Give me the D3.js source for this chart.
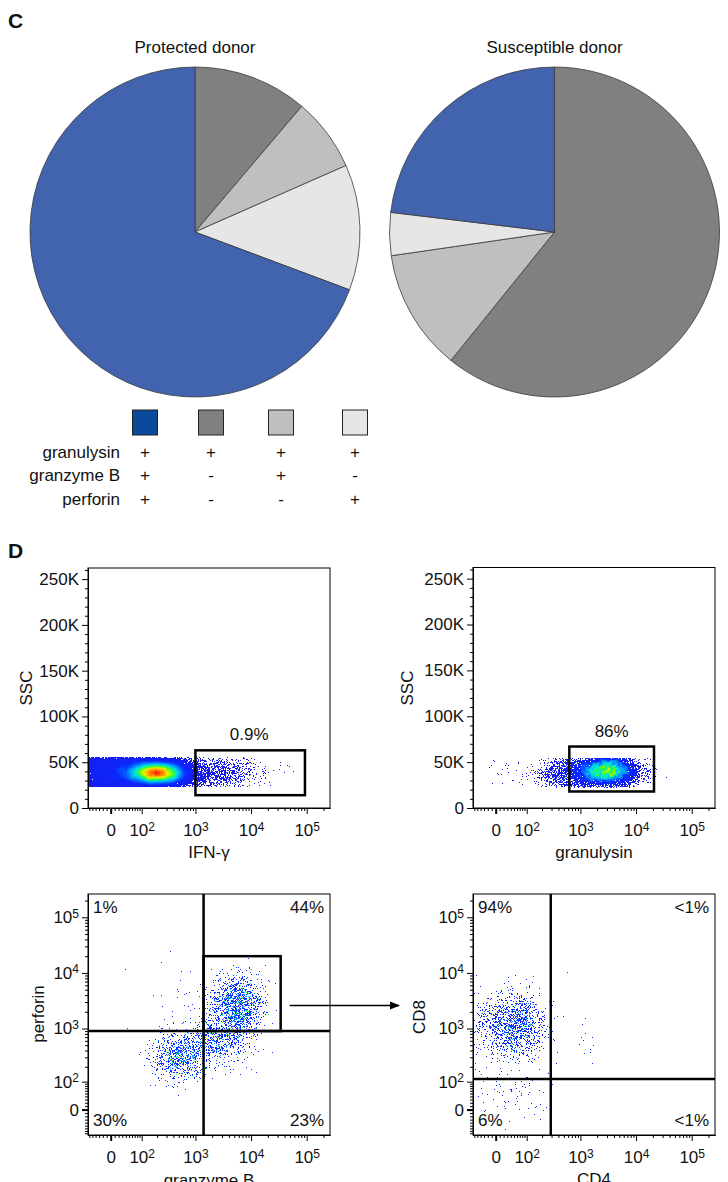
<!DOCTYPE html>
<html>
<head>
<meta charset="utf-8">
<title>Granulysin, granzyme B and perforin co-expression</title>
<script src="https://cdn.jsdelivr.net/npm/d3@7/dist/d3.min.js"></script>
<style>
  body { margin: 0; background: #fff; }
  svg { display: block; }
  text { font-family: "Liberation Sans", Arial, Helvetica, sans-serif; fill: #111; }
</style>
</head>
<body>
<svg id="fig" width="728" height="1182"></svg>
<script>
// ---------- panel C data ----------
const markers = ['granulysin', 'granzyme B', 'perforin'];
const markerSigns = [
  ['+', '+', '+', '+'],
  ['+', '-', '+', '-'],
  ['+', '-', '-', '+']
];
const subsetColors = ['#0b4a9b', '#808080', '#bfbfbf', '#e6e6e6'];
const pieColors = ['#4263ae', '#808080', '#bfbfbf', '#e6e6e6'];
const protectedPct = [69.3, 11.2, 7.2, 12.3];
const susceptiblePct = [23.1, 60.8, 11.9, 4.2];
const pieOrder = [1, 2, 3, 0]; // clockwise from 12 o'clock

// ---------- panel D data ----------
const sscTicks = [0, 50000, 100000, 150000, 200000, 250000];
const sscLabels = ['0', '50K', '100K', '150K', '200K', '250K'];
const logTicks = [0, 1e2, 1e3, 1e4, 1e5];
const logExps = ['', '2', '3', '4', '5'];

// gates: [x0, x1, y0, y1] in channel values
const ifnGate = [1000, 93000, 14000, 63000];
const gnlyGate = [630, 21000, 18000, 67000];
const gzmbSplit = [1400, 900];
const gzmbGate = [1400, 34000, 900, 20000];
const cdSplit = [290, 114];
const ifnLabel = '0.9%';
const gnlyLabel = '86%';
const gzmbQuad = ['1%', '44%', '30%', '23%']; // UL, UR, LL, LR
const cdQuad = ['94%', '<1%', '6%', '<1%'];

// event populations: [x centre, x spread (asinh units), y centre, y spread, events]
const ifnPops = [[200, 0.66, 38500, 7000, 30000], [10, 0.9, 39000, 16000, 10000], [2000, 1.0, 38000, 10000, 1300]];
const gnlyPops = [[3000, 0.6, 41000, 8000, 7000], [700, 0.7, 38000, 10000, 1400], [60, 1.2, 40000, 10000, 40]];
const gzmbPops = [[5600, 0.55, 2600, 0.6, 1250], [520, 0.6, 300, 0.5, 800], [2700, 0.65, 620, 0.5, 620], [900, 1.2, 2000, 1.0, 60]];
const cdPops = [[70, 0.55, 1150, 0.65, 900], [5, 0.6, 1150, 0.65, 450], [50, 0.8, 60, 0.8, 90], [1400, 0.35, 700, 0.5, 12]];
const sscWindow = [23000, 55000];

const svg = d3.select('#fig');
const FS = 17;

// panel letters
svg.append('text').attr('x', 8).attr('y', 28).attr('font-size', 21).attr('font-weight', 'bold').text('C');
svg.append('text').attr('x', 8).attr('y', 558).attr('font-size', 21).attr('font-weight', 'bold').text('D');

// ---------- pies ----------
const arc = d3.arc().innerRadius(0).outerRadius(165);
const pie = d3.pie().sort(null).value(d => d.v);
[[protectedPct, 195, 'Protected donor'], [susceptiblePct, 554.5, 'Susceptible donor']].forEach(([pct, cx, title]) => {
  const g = svg.append('g').attr('transform', `translate(${cx},232)`);
  g.selectAll('path')
    .data(pie(pieOrder.map(i => ({ v: pct[i], c: pieColors[i] }))))
    .join('path')
    .attr('d', arc)
    .attr('fill', d => d.data.c)
    .attr('stroke', '#3a3a3a')
    .attr('stroke-width', 0.8);
  svg.append('text').attr('x', cx).attr('y', 53).attr('text-anchor', 'middle').attr('font-size', FS).text(title);
});

// legend table
const colX = [145, 211, 281, 355];
const rowY = [458, 481, 505];
svg.selectAll('rect.key').data(subsetColors).join('rect').attr('class', 'key')
  .attr('x', (d, i) => colX[i] - 12.5).attr('y', 410).attr('width', 25).attr('height', 25)
  .attr('fill', d => d).attr('stroke', '#222').attr('stroke-width', 1);
markers.forEach((m, r) => {
  svg.append('text').attr('x', 120).attr('y', rowY[r]).attr('text-anchor', 'end').attr('font-size', FS).text(m);
  markerSigns[r].forEach((s, c) => {
    svg.append('text').attr('x', colX[c]).attr('y', rowY[r]).attr('text-anchor', 'middle').attr('font-size', FS).text(s);
  });
});

// ---------- flow plots ----------
// asinh ("biexponential") display scale usable by d3.axis
function biex(c, dom, range) {
  const lin = d3.scaleLinear().domain(dom.map(v => Math.asinh(v / c))).range(range);
  const s = v => lin(Math.asinh(v / c));
  s.t = lin;
  s.c = c;
  s.domain = () => dom;
  s.range = () => lin.range();
  s.copy = () => s;
  return s;
}
const xDomain = [-65, 262144];
const yLogDomain = [-88, 262144];

const frames = [
  { x0: 88, x1: 330, y0: 568, y1: 808 },
  { x0: 473, x1: 715, y0: 567.5, y1: 808 },
  { x0: 88, x1: 330, y0: 894, y1: 1135 },
  { x0: 473, x1: 715, y0: 894, y1: 1135 }
];

const lcg = d3.randomLcg(0.1379);
const gauss = d3.randomNormal.source(lcg)(0, 1);

function sampleEvents(pops, xs, ys, logY) {
  const pts = [];
  pops.forEach(([mx, sx, my, sy, n]) => {
    const tx = Math.asinh(mx / xs.c);
    const ty = logY ? Math.asinh(my / ys.c) : my;
    for (let k = 0; k < n; k++) {
      const px = xs.t(tx + sx * gauss());
      let vy;
      if (logY) vy = ys.t(ty + sy * gauss());
      else {
        let v;
        do { v = ty + sy * gauss(); } while (v < sscWindow[0] || v > sscWindow[1]);
        vy = ys(v);
      }
      pts.push([px, vy]);
    }
  });
  return pts;
}

function boxBlur(src, w, h, r) {
  const tmp = new Float32Array(w * h), out = new Float32Array(w * h);
  for (let y = 0; y < h; y++) for (let x = 0; x < w; x++) {
    let s = 0;
    for (let k = -r; k <= r; k++) { const xx = x + k; if (xx >= 0 && xx < w) s += src[y * w + xx]; }
    tmp[y * w + x] = s;
  }
  for (let y = 0; y < h; y++) for (let x = 0; x < w; x++) {
    let s = 0;
    for (let k = -r; k <= r; k++) { const yy = y + k; if (yy >= 0 && yy < h) s += tmp[yy * w + x]; }
    out[y * w + x] = s;
  }
  return out;
}

const jet = d3.scaleLinear()
  .domain([0, 0.18, 0.32, 0.45, 0.58, 0.72, 0.86, 1])
  .range(['#1a1ae8', '#0a28ff', '#0090ff', '#00e0e0', '#30ff30', '#e8f000', '#ff8c00', '#ff1400'])
  .clamp(true);

function drawDots(f, pts, blur, heat) {
  const w = Math.round(f.x1 - f.x0), h = Math.round(f.y1 - f.y0);
  const grid = new Float32Array(w * h);
  pts.forEach(([px, py]) => {
    const i = Math.floor(px - f.x0), j = Math.floor(py - f.y0);
    if (i >= 1 && i < w - 1 && j >= 1 && j < h - 1) grid[j * w + i]++;
  });
  const dens = boxBlur(grid, w, h, blur);
  const max = d3.max(dens);
  const cells = [];
  for (let j = 0; j < h; j++) for (let i = 0; i < w; i++) {
    if (grid[j * w + i] > 0) cells.push({ i, j, d: Math.min(1, dens[j * w + i] / max * heat) });
  }
  svg.append('g').attr('shape-rendering', 'crispEdges')
    .selectAll('rect').data(cells).join('rect')
    .attr('x', d => f.x0 + d.i).attr('y', d => f.y0 + d.j)
    .attr('width', 1).attr('height', 1)
    .attr('fill', d => jet(d.d));
}

function logMinors(lo) {
  const m = [];
  for (let k = 10; k <= 90; k += 10) { m.push(k); if (-k >= lo) m.push(-k); }
  [100, 1000, 10000, 100000].forEach(dec => { for (let k = 2; k <= 9; k++) if (k * dec <= 262144) m.push(k * dec); });
  return m;
}

function superLabel(sel, exps) {
  sel.each(function (d, i) {
    const t = d3.select(this).text(exps[i] ? '10' : '0');
    if (exps[i]) t.append('tspan').attr('dy', '-0.45em').attr('font-size', 12).text(exps[i]);
  });
}

function styleAxis(g) {
  g.attr('font-size', FS).attr('font-family', null);
  g.selectAll('path.domain').attr('stroke', '#000');
  g.selectAll('line').attr('stroke', '#000');
  g.selectAll('text').attr('fill', '#111');
}

function drawAxes(f, xs, ys, logY) {
  // bottom axis
  const gxm = svg.append('g').attr('transform', `translate(0,${f.y1})`)
    .call(d3.axisBottom(xs).tickValues(logMinors(xDomain[0])).tickSize(3).tickSizeOuter(0).tickFormat(''));
  styleAxis(gxm);
  const gx = svg.append('g').attr('transform', `translate(0,${f.y1})`)
    .call(d3.axisBottom(xs).tickValues(logTicks).tickSize(6).tickSizeOuter(0).tickPadding(10));
  styleAxis(gx);
  superLabel(gx.selectAll('.tick text'), logExps);
  gx.selectAll('.tick line').filter(d => d === 0).attr('stroke-width', 2);

  if (logY) {
    const gym = svg.append('g').attr('transform', `translate(${f.x0},0)`)
      .call(d3.axisLeft(ys).tickValues(logMinors(yLogDomain[0])).tickSize(3).tickSizeOuter(0).tickFormat(''));
    styleAxis(gym);
    const gy = svg.append('g').attr('transform', `translate(${f.x0},0)`)
      .call(d3.axisLeft(ys).tickValues(logTicks).tickSize(6).tickSizeOuter(0).tickPadding(3));
    styleAxis(gy);
    superLabel(gy.selectAll('.tick text'), logExps);
    gy.selectAll('.tick line').filter(d => d === 0).attr('stroke-width', 2);
  } else {
    const minors = d3.range(10000, 262144, 10000).filter(v => v % 50000 !== 0);
    const gym = svg.append('g').attr('transform', `translate(${f.x0},0)`)
      .call(d3.axisLeft(ys).tickValues(minors).tickSize(3).tickSizeOuter(0).tickFormat(''));
    styleAxis(gym);
    const gy = svg.append('g').attr('transform', `translate(${f.x0},0)`)
      .call(d3.axisLeft(ys).tickValues(sscTicks).tickSize(6).tickSizeOuter(0).tickPadding(3)
        .tickFormat((d, i) => sscLabels[i]));
    styleAxis(gy);
  }
  svg.append('rect').attr('x', f.x0).attr('y', f.y0).attr('width', f.x1 - f.x0).attr('height', f.y1 - f.y0)
    .attr('fill', 'none').attr('stroke', '#000').attr('stroke-width', 1);
}

function gateRect(xs, ys, g) {
  svg.append('rect')
    .attr('x', xs(g[0])).attr('y', ys(g[3]))
    .attr('width', xs(g[1]) - xs(g[0])).attr('height', ys(g[2]) - ys(g[3]))
    .attr('fill', 'none').attr('stroke', '#000').attr('stroke-width', 2.5);
}

function quadrants(f, xs, ys, split, labels) {
  svg.append('line').attr('x1', xs(split[0])).attr('x2', xs(split[0])).attr('y1', f.y0).attr('y2', f.y1)
    .attr('stroke', '#000').attr('stroke-width', 2.5);
  svg.append('line').attr('x1', f.x0).attr('x2', f.x1).attr('y1', ys(split[1])).attr('y2', ys(split[1]))
    .attr('stroke', '#000').attr('stroke-width', 2.5);
  const pos = [[f.x0 + 5, f.y0 + 19, 'start'], [f.x1 - 6, f.y0 + 19, 'end'], [f.x0 + 5, f.y1 - 9, 'start'], [f.x1 - 6, f.y1 - 9, 'end']];
  labels.forEach((l, i) => svg.append('text').attr('x', pos[i][0]).attr('y', pos[i][1])
    .attr('text-anchor', pos[i][2]).attr('font-size', FS).text(l));
}

function axisTitle(x, y, text, rotate) {
  svg.append('text').attr('transform', `translate(${x},${y})` + (rotate ? ' rotate(-90)' : ''))
    .attr('text-anchor', 'middle').attr('font-size', FS).text(text);
}

// plot 1: IFN-gamma vs SSC
{
  const f = frames[0];
  const xs = biex(60, xDomain, [f.x0, f.x1]);
  const ys = d3.scaleLinear().domain([0, 262144]).range([f.y1, f.y0]);
  drawDots(f, sampleEvents(ifnPops, xs, ys, false), 2, 1);
  drawAxes(f, xs, ys, false);
  gateRect(xs, ys, ifnGate);
  svg.append('text').attr('x', (xs(ifnGate[0]) + xs(ifnGate[1])) / 2 - 1).attr('y', 740)
    .attr('text-anchor', 'middle').attr('font-size', FS).text(ifnLabel);
  axisTitle(209, 858, 'IFN-γ');
  axisTitle(32, 688, 'SSC', true);
}
// plot 2: granulysin vs SSC
{
  const f = frames[1];
  const xs = biex(60, xDomain, [f.x0, f.x1]);
  const ys = d3.scaleLinear().domain([0, 262144]).range([f.y1, f.y0]);
  drawDots(f, sampleEvents(gnlyPops, xs, ys, false), 1, 0.72);
  drawAxes(f, xs, ys, false);
  gateRect(xs, ys, gnlyGate);
  svg.append('text').attr('x', (xs(gnlyGate[0]) + xs(gnlyGate[1])) / 2).attr('y', 737)
    .attr('text-anchor', 'middle').attr('font-size', FS).text(gnlyLabel);
  axisTitle(594, 858, 'granulysin');
  axisTitle(413, 688, 'SSC', true);
}
// plot 3: granzyme B vs perforin
{
  const f = frames[2];
  const xs = biex(60, xDomain, [f.x0, f.x1]);
  const ys = biex(70, yLogDomain, [f.y1, f.y0]);
  drawDots(f, sampleEvents(gzmbPops, xs, ys, true), 0, 0.75);
  drawAxes(f, xs, ys, true);
  quadrants(f, xs, ys, gzmbSplit, gzmbQuad);
  gateRect(xs, ys, gzmbGate);
  axisTitle(209, 1186, 'granzyme B');
  axisTitle(44, 1014, 'perforin', true);
  // arrow to the CD4/CD8 plot, at the level of the gated cluster
  const ay = ys(gzmbPops[0][2]);
  const defs = svg.append('defs');
  defs.append('marker').attr('id', 'head').attr('viewBox', '0 0 10 10').attr('refX', 9).attr('refY', 5)
    .attr('markerWidth', 7).attr('markerHeight', 7).attr('orient', 'auto')
    .append('path').attr('d', 'M0,1L10,5L0,9Z').attr('fill', '#000');
  svg.append('line').attr('x1', xs(gzmbGate[1]) + 9).attr('x2', 399).attr('y1', ay).attr('y2', ay)
    .attr('stroke', '#000').attr('stroke-width', 1.5).attr('marker-end', 'url(#head)');
}
// plot 4: CD4 vs CD8
{
  const f = frames[3];
  const xs = biex(60, xDomain, [f.x0, f.x1]);
  const ys = biex(70, yLogDomain, [f.y1, f.y0]);
  drawDots(f, sampleEvents(cdPops, xs, ys, true), 0, 0.55);
  drawAxes(f, xs, ys, true);
  quadrants(f, xs, ys, cdSplit, cdQuad);
  axisTitle(594, 1185, 'CD4');
  axisTitle(425, 1017, 'CD8', true);
}
</script>
</body>
</html>
